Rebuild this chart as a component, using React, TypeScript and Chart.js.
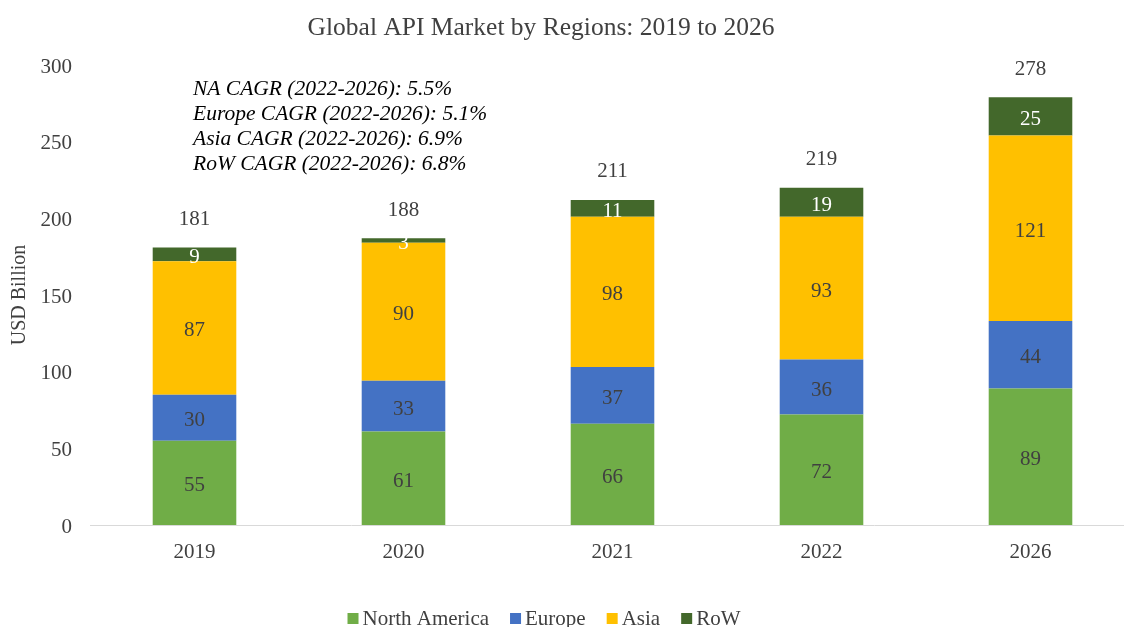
import React, { useEffect, useRef } from "react";
import { Chart, registerables } from "chart.js";

Chart.register(...registerables);

const years = ["2019", "2020", "2021", "2022", "2026"];
const northAmerica = [55, 61, 66, 72, 89];
const europe = [30, 33, 37, 36, 44];
const asia = [87, 90, 98, 93, 121];
const rowValues = [9, 3, 11, 19, 25];
const totals = [181, 188, 211, 219, 278];
const cagrNotes = [
  "NA CAGR (2022-2026): 5.5%",
  "Europe CAGR (2022-2026): 5.1%",
  "Asia CAGR (2022-2026): 6.9%",
  "RoW CAGR (2022-2026): 6.8%",
];
const seriesNames = ["North America", "Europe", "Asia", "RoW"];
const seriesColors = ["#70AD47", "#4472C4", "#FFC000", "#43682B"];
const labelColors = ["#404040", "#404040", "#404040", "#FFFFFF"];
const titleText = "Global API Market by Regions: 2019 to 2026";

const FONT = "'Liberation Serif', 'Times New Roman', serif";
const TEXT = "#404040";

const overlayPlugin = {
  id: "overlay",
  afterDatasetsDraw(chart: any) {
    const ctx = chart.ctx;
    ctx.save();
    // segment labels
    ctx.font = `21px ${FONT}`;
    ctx.textAlign = "center";
    ctx.textBaseline = "middle";
    chart.data.datasets.forEach((ds: any, di: number) => {
      const meta = chart.getDatasetMeta(di);
      meta.data.forEach((bar: any, i: number) => {
        const y = (bar.y + bar.base) / 2 + 3;
        ctx.fillStyle = labelColors[di];
        ctx.fillText(String(ds.data[i]), bar.x, y);
      });
    });
    // totals
    const lastMeta = chart.getDatasetMeta(chart.data.datasets.length - 1);
    lastMeta.data.forEach((bar: any, i: number) => {
      ctx.fillStyle = TEXT;
      ctx.fillText(String(totals[i]), bar.x, bar.y - 28);
    });
    // CAGR notes
    ctx.font = `italic 21.5px ${FONT}`;
    ctx.textAlign = "left";
    ctx.fillStyle = "#000000";
    cagrNotes.forEach((t, i) => {
      ctx.fillText(t, 193, 89 + i * 25);
    });
    // title
    ctx.font = `25.5px ${FONT}`;
    ctx.textAlign = "center";
    ctx.fillStyle = TEXT;
    ctx.fillText(titleText, 541, 28);
    // legend
    ctx.font = `21px ${FONT}`;
    const box = 11;
    const gapBox = 4;
    const gapItem = 21;
    const widths = seriesNames.map((n) => ctx.measureText(n).width);
    const total =
      widths.reduce((a, b) => a + b, 0) + seriesNames.length * (box + gapBox) + (seriesNames.length - 1) * gapItem;
    let x = 544 - total / 2;
    ctx.textAlign = "left";
    seriesNames.forEach((n, i) => {
      ctx.fillStyle = seriesColors[i];
      ctx.fillRect(x, 613, box, box);
      x += box + gapBox;
      ctx.fillStyle = TEXT;
      ctx.fillText(n, x, 619);
      x += widths[i] + gapItem;
    });
    ctx.restore();
  },
};

export default function App() {
  const ref = useRef<HTMLCanvasElement | null>(null);
  useEffect(() => {
    if (!ref.current) return;
    const values = [northAmerica, europe, asia, rowValues];
    const chart = new Chart(ref.current, {
      type: "bar",
      data: {
        labels: years,
        datasets: values.map((d, i) => ({
          label: seriesNames[i],
          data: d,
          backgroundColor: seriesColors[i],
          borderWidth: 0,
          barPercentage: 0.4,
          categoryPercentage: 1,
        })),
      },
      options: {
        responsive: false,
        animation: false,
        layout: { padding: { top: 65, left: 0, right: 1, bottom: 0 } },
        plugins: {
          legend: { display: false },
          title: { display: false },
          tooltip: { enabled: false },
        },
        scales: {
          x: {
            stacked: true,
            grid: { display: false, drawTicks: false },
            border: { display: true, color: "#D9D9D9", width: 1 },
            ticks: { color: TEXT, font: { family: FONT, size: 21 }, padding: 15 },
            afterFit: (s: any) => {
              s.height = 640 - 525;
            },
          },
          y: {
            stacked: true,
            min: 0,
            max: 300,
            grid: { display: false, drawTicks: false },
            border: { display: false },
            ticks: {
              stepSize: 50,
              color: TEXT,
              font: { family: FONT, size: 21 },
              padding: 18,
              labelOffset: 2,
            },
            title: {
              display: true,
              text: "USD Billion",
              color: TEXT,
              font: { family: FONT, size: 20 },
              padding: { top: 8, bottom: 0 },
            },
            afterFit: (s: any) => {
              s.width = 90;
            },
          },
        },
      },
      plugins: [overlayPlugin],
    });
    return () => chart.destroy();
  }, []);
  return (
    <div style={{ position: "fixed", left: 0, top: 0, width: 1124, height: 627, overflow: "hidden", background: "#fff" }}>
      <canvas ref={ref} width={1136} height={640} style={{ display: "block" }} />
    </div>
  );
}
